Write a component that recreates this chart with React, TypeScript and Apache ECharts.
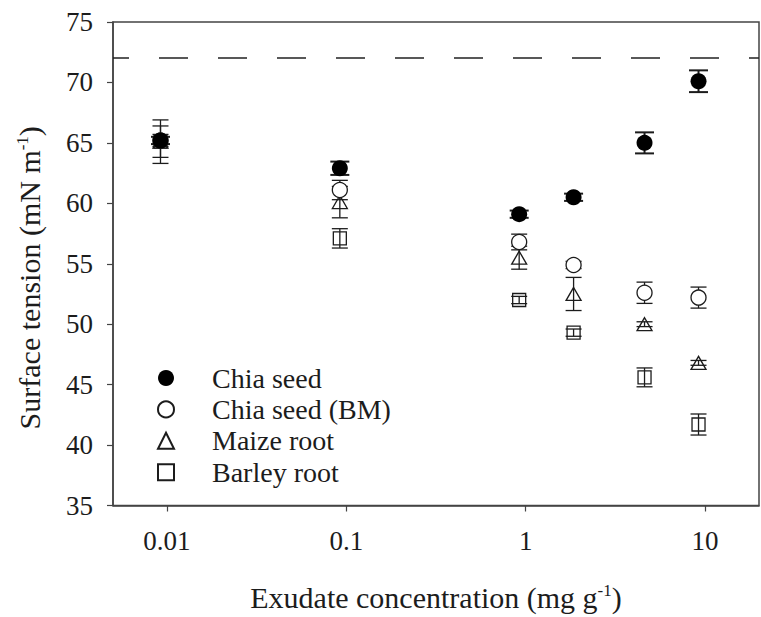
import React, { useEffect, useRef } from "react";
import * as echarts from "echarts";

// Exudate concentration (mg g-1), x positions of each group
const concentrations = [0.0092, 0.092, 0.92, 1.85, 4.6, 9.2];

const chiaSeed = [65.2, 62.9, 59.1, 60.5, 65.0, 70.1];
const chiaSeedErr = [0.3, 0.55, 0.3, 0.3, 0.87, 0.9];

const chiaSeedBM = [65.2, 61.1, 56.8, 54.9, 52.6, 52.2];
const chiaSeedBMErr = [0.5, 0.8, 0.65, 0.3, 0.88, 0.87];

const maizeRoot = [65.1, 60.1, 55.5, 52.5, 50.0, 46.8];
const maizeRootErr = [1.8, 1.3, 0.95, 1.37, 0.2, 0.2];

const barleyRoot = [65.1, 57.1, 52.0, 49.3, 45.6, 41.7];
const barleyRootErr = [1.3, 0.8, 0.3, 0.3, 0.78, 0.87];

const xTickValues = [0.01, 0.1, 1, 10];
const yTickValues = [35, 40, 45, 50, 55, 60, 65, 70, 75];
const waterSurfaceTension = 72.05;

const seriesNames = ["Chia seed", "Chia seed (BM)", "Maize root", "Barley root"];

const FONT = "Liberation Serif";
const INK = "#1c1c1c";

function points(ys: number[]) {
  return concentrations.map((x, i) => [x, ys[i]]);
}
function errs(ys: number[], es: number[]) {
  return concentrations.map((x, i) => [x, ys[i] - es[i], ys[i] + es[i]]);
}

function errorSeries(ys: number[], es: number[], half: number, lw: number) {
  return {
    type: "custom",
    silent: true,
    z: 2,
    encode: { x: 0, y: [1, 2] },
    data: errs(ys, es),
    renderItem: (params: any, api: any) => {
      const x = api.value(0);
      const lo = api.coord([x, api.value(1)]);
      const hi = api.coord([x, api.value(2)]);
      const style = { stroke: INK, lineWidth: lw, fill: null };
      return {
        type: "group",
        children: [
          { type: "line", shape: { x1: lo[0], y1: lo[1], x2: hi[0], y2: hi[1] }, style },
          { type: "line", shape: { x1: lo[0] - half, y1: lo[1], x2: lo[0] + half, y2: lo[1] }, style },
          { type: "line", shape: { x1: hi[0] - half, y1: hi[1], x2: hi[0] + half, y2: hi[1] }, style },
        ],
      };
    },
  };
}

const supStyle = { fontSize: 17, verticalAlign: "top", padding: [0, 0, 14, 0], fontFamily: FONT, color: INK };

export default function App() {
  const ref = useRef<HTMLDivElement>(null);
  useEffect(() => {
    document.body.style.margin = "0";
    const chart = echarts.init(ref.current!, null, { renderer: "svg" });
    chart.setOption({
      animation: false,
      backgroundColor: "#ffffff",
      textStyle: { fontFamily: FONT, color: INK },
      grid: {
        left: 113,
        top: 22,
        width: 646,
        height: 488,
        show: true,
        borderColor: "#444",
        borderWidth: 1.5,
        backgroundColor: "transparent",
      },
      legend: {
        orient: "vertical",
        left: 152,
        top: 359,
        padding: 5,
        itemWidth: 16,
        itemHeight: 16,
        itemGap: 3.4,
        selectedMode: false,
        data: seriesNames,
        textStyle: {
          fontFamily: FONT,
          fontSize: 28,
          color: INK,
          lineHeight: 28,
          padding: [0, 0, 0, 33],
        },
      },
      xAxis: {
        type: "log",
        logBase: 10,
        min: 0.005,
        max: 20,
        name: "Exudate concentration (mg g{sup|-1})",
        nameLocation: "middle",
        nameGap: 76,
        nameTextStyle: { fontFamily: FONT, fontSize: 30, color: INK, rich: { sup: supStyle } },
        axisLine: { show: true, lineStyle: { color: "#444", width: 1.5 } },
        axisTick: { show: true, length: 6, inside: false, customValues: xTickValues, lineStyle: { color: "#444", width: 1.2 } },
        minorTick: { show: false },
        splitLine: { show: false },
        axisLabel: {
          customValues: xTickValues,
          fontFamily: FONT,
          fontSize: 27,
          color: INK,
          margin: 22,
          formatter: (v: number) => String(v),
        },
      },
      yAxis: {
        type: "value",
        min: 35,
        max: 75,
        interval: 5,
        name: "Surface tension (mN m{sup|-1})",
        nameLocation: "middle",
        nameGap: 68,
        nameRotate: 90,
        nameTextStyle: { fontFamily: FONT, fontSize: 30, color: INK, padding: [0, 28, 0, 0], rich: { sup: supStyle } },
        axisLine: { show: true, lineStyle: { color: "#444", width: 1.5 } },
        axisTick: { show: true, length: 6, inside: false, lineStyle: { color: "#444", width: 1.2 } },
        splitLine: { show: false },
        axisLabel: {
          fontFamily: FONT,
          fontSize: 27,
          color: INK,
          margin: 20,
          formatter: (v: number) => (yTickValues.includes(v) ? String(v) : ""),
        },
      },
      series: [
        errorSeries(maizeRoot, maizeRootErr, 8, 1.3),
        errorSeries(barleyRoot, barleyRootErr, 8, 1.3),
        errorSeries(chiaSeedBM, chiaSeedBMErr, 8, 1.3),
        errorSeries(chiaSeed, chiaSeedErr, 9.5, 2),
        {
          name: "Barley root",
          type: "scatter",
          symbol: "rect",
          symbolSize: 13,
          z: 3,
          data: points(barleyRoot),
          itemStyle: { color: "rgba(255,255,255,0)", borderColor: INK, borderWidth: 1.3, opacity: 1 },
        },
        {
          name: "Maize root",
          type: "scatter",
          symbol: "triangle",
          symbolSize: [15, 13],
          z: 3,
          data: points(maizeRoot),
          itemStyle: { color: "rgba(255,255,255,0)", borderColor: INK, borderWidth: 1.3, opacity: 1 },
        },
        {
          name: "Chia seed (BM)",
          type: "scatter",
          symbol: "circle",
          symbolSize: 15,
          z: 4,
          data: points(chiaSeedBM),
          itemStyle: { color: "#ffffff", borderColor: INK, borderWidth: 1.3, opacity: 1 },
        },
        {
          name: "Chia seed",
          type: "scatter",
          symbol: "circle",
          symbolSize: 16,
          z: 5,
          data: points(chiaSeed),
          itemStyle: { color: "#000000", borderColor: "#000000", borderWidth: 0, opacity: 1 },
          markLine: {
            silent: true,
            symbol: ["none", "none"],
            label: { show: false },
            lineStyle: { color: "#222", width: 1.5, type: [29, 30], dashOffset: 13 },
            data: [{ yAxis: waterSurfaceTension }],
          },
        },
      ],
    });
    return () => chart.dispose();
  }, []);
  return <div ref={ref} style={{ width: 761, height: 617 }} />;
}
